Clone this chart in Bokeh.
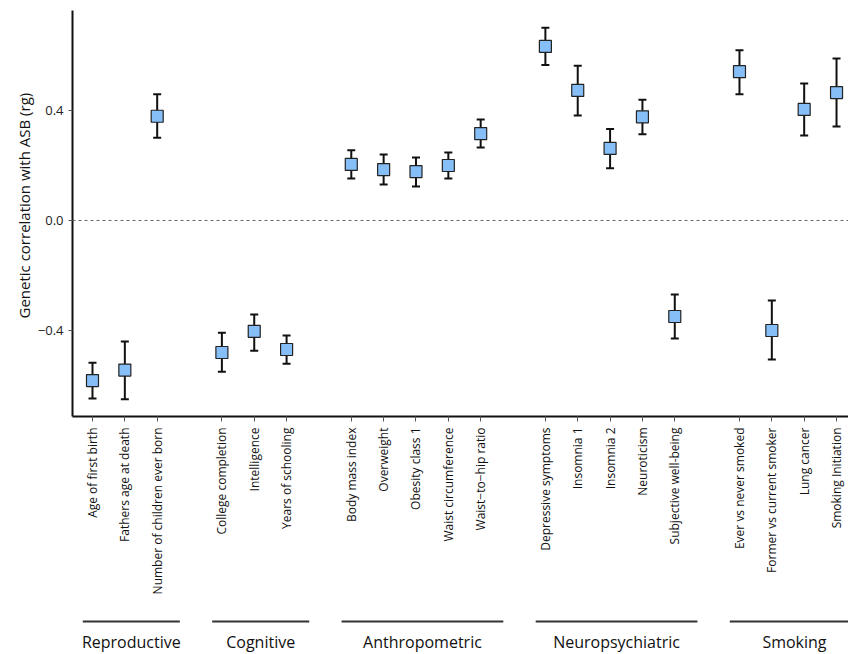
import math
from bokeh.plotting import figure
from bokeh.models import FixedTicker, Span, Range1d, Title, ColumnDataSource
from bokeh.layouts import column
from bokeh.embed import file_html
from bokeh.resources import INLINE
from bokeh.core.properties import value

FONT = "Open Sans"

group_names = ["Reproductive", "Cognitive", "Anthropometric", "Neuropsychiatric", "Smoking"]
group_sizes = [3, 3, 5, 5, 4]

traits = [
    "Age of first birth", "Fathers age at death", "Number of children ever born",
    "College completion", "Intelligence", "Years of schooling",
    "Body mass index", "Overweight", "Obesity class 1", "Waist circumference", "Waist\u2212to\u2212hip ratio",
    "Depressive symptoms", "Insomnia 1", "Insomnia 2", "Neuroticism", "Subjective well-being",
    "Ever vs never smoked", "Former vs current smoker", "Lung cancer", "Smoking Initiation",
]
rg = [-0.582, -0.544, 0.379,
      -0.480, -0.403, -0.469,
      0.204, 0.185, 0.178, 0.200, 0.316,
      0.633, 0.473, 0.262, 0.377, -0.349,
      0.541, -0.400, 0.404, 0.465]
ci_low = [-0.647, -0.650, 0.301,
          -0.550, -0.474, -0.521,
          0.153, 0.131, 0.124, 0.153, 0.265,
          0.565, 0.382, 0.190, 0.314, -0.429,
          0.459, -0.505, 0.309, 0.342]
ci_high = [-0.517, -0.440, 0.459,
           -0.408, -0.342, -0.418,
           0.255, 0.240, 0.229, 0.247, 0.367,
           0.701, 0.563, 0.333, 0.439, -0.269,
           0.619, -0.291, 0.498, 0.589]

y_ticks = [-0.4, 0.0, 0.4]
y_tick_labels = ["\u22120.4", "0.0", "0.4"]

# positions: consecutive within group, one empty slot between groups
positions = []
group_first, group_last = [], []
pos = 1
for n in group_sizes:
    group_first.append(pos)
    for _ in range(n):
        positions.append(pos)
        pos += 1
    group_last.append(pos - 1)
    pos += 1

x_range = Range1d(0.382, 24.37)

p = figure(width=848, height=600, output_backend="svg", toolbar_location=None,
           x_range=x_range, y_range=Range1d(-0.7127, 0.7636),
           min_border_left=72, min_border_right=0, min_border_top=10, min_border_bottom=184)
p.outline_line_color = None
p.xgrid.visible = False
p.ygrid.visible = False

p.add_layout(Span(location=0, dimension="width", line_dash="3 3", line_color="#666", line_width=1))

src = ColumnDataSource(dict(x=positions, y=rg, lo=ci_low, hi=ci_high))
p.segment(x0="x", y0="lo", x1="x", y1="hi", source=src, line_color="#111", line_width=2)
p.scatter(x="x", y="lo", source=src, marker="dash", size=8, line_color="#111", line_width=2)
p.scatter(x="x", y="hi", source=src, marker="dash", size=8, line_color="#111", line_width=2)
p.scatter(x="x", y="y", source=src, marker="square", size=12,
          fill_color="#86BEF7", line_color="#222", line_width=1.2)

xa = p.xaxis[0]
xa.ticker = FixedTicker(ticks=positions)
xa.major_label_overrides = {int(k): v for k, v in zip(positions, traits)}
xa.major_label_orientation = math.pi / 2
xa.major_label_text_font = FONT
xa.major_label_text_font_size = "12px"
xa.major_label_text_color = "#111"
xa.major_label_standoff = 6
xa.axis_line_width = 2
xa.axis_line_color = "#111"
xa.major_tick_out = 5
xa.major_tick_in = 0
xa.major_tick_line_color = "#555"
xa.minor_tick_line_color = None

ya = p.yaxis[0]
ya.ticker = FixedTicker(ticks=y_ticks)
ya.major_label_overrides = {k: v for k, v in zip(y_ticks, y_tick_labels)}
ya.major_label_text_font = FONT
ya.major_label_text_font_size = "13px"
ya.major_label_text_color = "#222"
ya.major_label_standoff = 5
ya.axis_line_width = 2
ya.axis_line_color = "#111"
ya.major_tick_out = 4
ya.major_tick_in = 0
ya.major_tick_line_color = "#555"
ya.minor_tick_line_color = None

p.add_layout(Title(text="Genetic correlation with ASB (rg)", align="left", offset=98,
                   text_font=FONT, text_font_size="15px", text_font_style="normal",
                   text_color="#111", standoff=2), "left")

# group bar below
g = figure(width=848, height=52, output_backend="svg", toolbar_location=None,
           x_range=x_range, y_range=Range1d(0, 52),
           min_border_left=72, min_border_right=0, min_border_top=0, min_border_bottom=0)
g.outline_line_color = None
g.axis.visible = False
g.xgrid.visible = False
g.ygrid.visible = False
gx0 = [f - 0.3 for f in group_first]
gx1 = [l + 0.7 for l in group_last]
gsrc = ColumnDataSource(dict(x0=gx0, x1=gx1, xc=[(a + b) / 2 for a, b in zip(gx0, gx1)], name=group_names))
g.segment(x0="x0", y0=31, x1="x1", y1=31, source=gsrc, line_color="#333", line_width=2)
g.text(x="xc", y=11, text="name", source=gsrc, text_align="center", text_baseline="middle",
       text_font=value(FONT), text_font_size="16px", text_color="#111")

layout = column(p, g)
open("out.html", "w").write(file_html(layout, INLINE))
